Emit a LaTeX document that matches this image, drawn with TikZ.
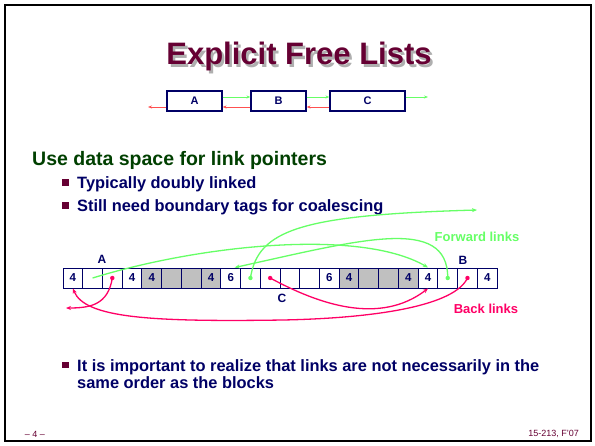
\documentclass[tikz,border=0pt]{standalone}
\usepackage{fontspec}
\setmainfont{Liberation Sans}
\usetikzlibrary{arrows.meta}
\definecolor{navy}{RGB}{0,0,102}
\definecolor{maroon}{RGB}{102,0,51}
\definecolor{darkgreen}{RGB}{0,64,0}
\definecolor{lgreen}{RGB}{102,255,102}
\definecolor{hotpink}{RGB}{255,0,102}
\definecolor{lred}{RGB}{255,80,80}
\definecolor{cellgray}{RGB}{192,192,192}
\definecolor{shadowgray}{RGB}{175,175,175}

% title text with a soft drop shadow behind it
\newcommand{\shadowtitle}[1]{%
  \makebox[0pt][l]{\raisebox{-2.5pt}{\kern2.5pt\textcolor{shadowgray}{#1}}}%
  \textcolor{maroon}{#1}}

\begin{document}
\begin{tikzpicture}[x=1pt,y=-1pt,
  cell/.style={draw=navy, line width=1pt, minimum width=19.73pt, minimum height=20pt,
    inner sep=0pt, text=navy, font=\bfseries\fontsize{11.5}{11.5}\selectfont},
  blk/.style={draw=navy, line width=1.2pt, minimum height=20pt, inner sep=0pt,
    text=navy, font=\bfseries\fontsize{11}{11}\selectfont},
  topf/.style={draw=lgreen, line width=1pt, -{Stealth[length=4pt,width=3pt]}},
  topb/.style={draw=lred, line width=1pt, -{Stealth[length=4pt,width=3pt]}},
  fwd/.style={draw=lgreen, line width=1.3pt, -{Stealth[length=5pt,width=4pt]}},
  back/.style={draw=hotpink, line width=1.3pt, -{Stealth[length=5pt,width=4pt]}},
  bsq/.style={fill=maroon, minimum size=6.5pt, inner sep=0pt},
  btext/.style={anchor=base west, inner sep=0pt, text=navy, font=\bfseries\fontsize{16.4}{16.4}\selectfont},
  lbl/.style={text=navy, font=\bfseries\fontsize{12}{12}\selectfont, inner sep=0pt},
  foot/.style={text=maroon, font=\fontsize{9}{9}\selectfont, inner sep=0pt}
]
\useasboundingbox (0,0) rectangle (595,445);
\fill[white] (0,0) rectangle (595,445);
% slide frame
\draw[line width=2.2pt] (5,5) rectangle (591,441);

% title
\node[font=\bfseries\fontsize{31}{31}\selectfont, inner sep=0pt] (title) at (299,58) {\shadowtitle{Explicit Free Lists}};

% abstract list A -> B -> C
\node[blk, minimum width=55pt] (A) at (194.5,101) {A};
\node[blk, minimum width=55pt] (B) at (278.5,101) {B};
\node[blk, minimum width=75pt] (C) at (367.5,101) {C};
\coordinate (gout) at (428,97);
\coordinate (rout) at (148,107);
\draw[topf] ([yshift=4pt]A.east) -- ([yshift=4pt]B.west);
\draw[topf] ([yshift=4pt]B.east) -- ([yshift=4pt]C.west);
\draw[topf] ([yshift=4pt]C.east) -- (gout);
\draw[topb] ([yshift=-6pt]B.west) -- ([yshift=-6pt]A.east);
\draw[topb] ([yshift=-6pt]C.west) -- ([yshift=-6pt]B.east);
\draw[topb] ([yshift=-6pt]A.west) -- (rout);

% heading and bullets
\node[anchor=base west, inner sep=0pt, text=darkgreen, font=\bfseries\fontsize{19.5}{19.5}\selectfont] (head) at (32,165) {Use data space for link pointers};
\node[bsq] (b1) at (65.5,182.5) {};
\node[btext] (t1) at (77,188) {Typically doubly linked};
\node[bsq] (b2) at (65.5,205.5) {};
\node[btext] (t2) at (77,211) {Still need boundary tags for coalescing};
\node[bsq] (b3) at (65.5,365) {};
\node[btext] (t3a) at (77,371) {It is important to realize that links are not necessarily in the};
\node[btext] (t3b) at (77,388) {same order as the blocks};

% heap words
\foreach \i/\t/\f in {0/4/white,1//white,2//white,3/4/white,
                      4/4/cellgray,5//cellgray,6//cellgray,7/4/cellgray,
                      8/6/white,9//white,10//white,11//white,12//white,13/6/white,
                      14/4/cellgray,15//cellgray,16//cellgray,17/4/cellgray,
                      18/4/white,19//white,20//white,21/4/white}
  \node[cell, fill=\f] (c\i) at ({63+19.73*(\i+0.5)},278) {\t};

\node[lbl] (la) at (102,259) {A};
\node[lbl] (lb) at (463,260) {B};
\node[lbl] (lc) at (282,298) {C};

% pointer sources
\fill[lgreen] (c9.center) circle (2.2pt);
\fill[lgreen] (c19.center) circle (2.2pt);
\fill[hotpink] (c2.center) circle (2.2pt);
\fill[hotpink] (c10.center) circle (2.2pt);
\fill[hotpink] (c20.center) circle (2.2pt);

% forward links
\coordinate (cout) at (477,210);
\draw[fwd] (c1.center) .. controls (200,245) and (360,228) .. (c18.north);
\draw[fwd] (c19.center) .. controls (448,215) and (360,240) .. ([xshift=4pt]c8.north);
\draw[fwd] (c9.center) .. controls (258,230) and (300,215) .. (cout);

% back links
\coordinate (aout) at (66,308);
\coordinate (bend) at (283,320);
\draw[back] (c2.center) .. controls (108,305) and (90,308) .. (aout);
\draw[back] (c20.center) .. controls (455,305) and (380,318) .. (bend)
            .. controls (150,322) and (85,318) .. (c0.south);
\draw[back] (c10.center) .. controls (320,305) and (380,325) .. (c18.south);

\node[text=lgreen, font=\bfseries\fontsize{13}{13}\selectfont] (fl) at (477,237) {Forward links};
\node[text=hotpink, font=\bfseries\fontsize{13}{13}\selectfont] (bl) at (486,309) {Back links};

% footer
\node[foot] (pg) at (35,434) {– 4 –};
\node[foot, anchor=east] (course) at (579,434) {15-213, F'07};
\end{tikzpicture}
\end{document}
